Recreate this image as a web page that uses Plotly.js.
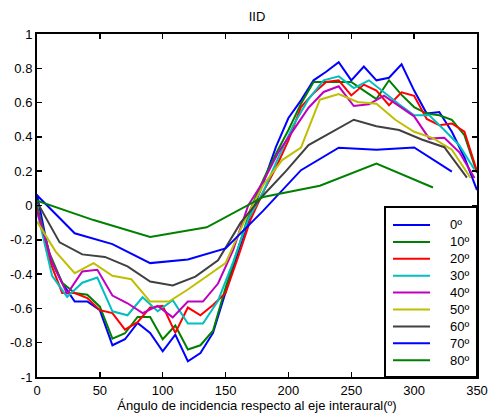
<!DOCTYPE html>
<html>
<head>
<meta charset="utf-8">
<script src="https://cdn.plot.ly/plotly-3.0.1.min.js"></script>
<style>html,body{margin:0;padding:0;background:#fff;}#chart{width:488px;height:415px;}</style>
</head>
<body>
<div id="chart"></div>
<script>
// Azimuth grids (degrees) per elevation
const az10 = [0,10,20,30,40,50,60,70,80,90,100,110,120,130,140,150,160,170,180,190,200,210,220,230,240,250,260,270,280,290,300,310,320,330,340,350];
const az12 = [0,12,24,36,48,60,72,84,96,108,120,132,144,156,168,180,192,204,216,228,240,252,264,276,288,300,312,324,336,348];
const az15 = [0,15,30,45,60,75,90,105,120,135,150,165,180,195,210,225,240,255,270,285,300,315,330,345];
const az18 = [0,18,36,54,72,90,108,126,144,162,180,198,216,234,252,270,288,306,324,342];
const az30 = [0,30,60,90,120,150,180,210,240,270,300,330];
const az45 = [0,45,90,135,180,225,270,315];

// IID values per elevation
const iid0 = [0.065,-0.30,-0.45,-0.56,-0.56,-0.61,-0.815,-0.78,-0.685,-0.743,-0.85,-0.753,-0.908,-0.86,-0.743,-0.50,-0.27,-0.05,0.13,0.34,0.51,0.613,0.73,0.78,0.836,0.73,0.81,0.73,0.745,0.823,0.67,0.536,0.545,0.43,0.28,0.09];
const iid10 = [0.0,-0.28,-0.45,-0.51,-0.52,-0.59,-0.776,-0.745,-0.65,-0.65,-0.78,-0.70,-0.84,-0.815,-0.73,-0.48,-0.25,-0.02,0.15,0.30,0.44,0.594,0.72,0.72,0.72,0.72,0.67,0.62,0.73,0.645,0.574,0.536,0.526,0.50,0.41,0.19];
const iid20 = [-0.02,-0.32,-0.51,-0.51,-0.54,-0.61,-0.627,-0.724,-0.68,-0.595,-0.585,-0.743,-0.595,-0.64,-0.58,-0.51,-0.30,-0.08,0.08,0.22,0.38,0.574,0.655,0.72,0.73,0.642,0.705,0.67,0.585,0.66,0.64,0.505,0.468,0.478,0.43,0.20];
const iid30 = [-0.03,-0.41,-0.533,-0.45,-0.42,-0.617,-0.64,-0.535,-0.617,-0.552,-0.688,-0.688,-0.555,-0.33,-0.08,0.08,0.28,0.47,0.62,0.73,0.753,0.685,0.73,0.66,0.59,0.526,0.526,0.44,0.35,0.21];
const iid40 = [-0.03,-0.33,-0.515,-0.385,-0.375,-0.525,-0.57,-0.627,-0.585,-0.652,-0.56,-0.56,-0.455,-0.26,0.0,0.14,0.31,0.44,0.57,0.662,0.695,0.58,0.59,0.64,0.58,0.52,0.39,0.395,0.31,0.16];
const iid50 = [-0.094,-0.27,-0.395,-0.336,-0.41,-0.43,-0.56,-0.56,-0.49,-0.414,-0.336,-0.09,0.12,0.265,0.337,0.617,0.65,0.604,0.594,0.5,0.43,0.393,0.325,0.16];
const iid60 = [0.02,-0.215,-0.285,-0.30,-0.355,-0.443,-0.466,-0.415,-0.32,-0.10,0.06,0.2,0.352,0.425,0.5,0.462,0.44,0.385,0.34,0.162];
const iid70 = [0.06,-0.162,-0.225,-0.336,-0.315,-0.25,-0.03,0.206,0.337,0.325,0.338,0.197];
const iid80 = [0.028,-0.085,-0.183,-0.127,0.05,0.115,0.245,0.105];

const names = ['0º','10º','20º','30º','40º','50º','60º','70º','80º'];
const xs = [az10, az10, az10, az12, az12, az15, az18, az30, az45];
const ys = [iid0, iid10, iid20, iid30, iid40, iid50, iid60, iid70, iid80];
const colors = ['#0000ff','#008000','#ff0000','#00bfbf','#bf00bf','#bfbf00','#404040','#0000ff','#008000'];

const yTickVals = [-1,-0.8,-0.6,-0.4,-0.2,0,0.2,0.4,0.6,0.8,1];
const yTickText = ['-1','-0.8','-0.6','-0.4','-0.2','0','0.2','0.4','0.6','0.8','1'];
const xTickVals = [0,50,100,150,200,250,300,350];

const FONT = 'Liberation Sans, Arial, sans-serif';

const traces = names.map((n, i) => ({
  x: xs[i], y: ys[i], name: n, type: 'scatter', mode: 'lines',
  line: {color: colors[i], width: 2}, showlegend: false
}));

// Manual legend (MATLAB-style box in lower-right corner), in paper coordinates
const W = 488, H = 415, ML = 37, MR = 11, MT = 34, MB = 38;
const PW = W - ML - MR, PH = H - MT - MB;
const px2x = p => (p - ML) / PW;
const py2y = p => (H - MB - p) / PH;
const shapes = [{
  type: 'rect', xref: 'paper', yref: 'paper', layer: 'above',
  x0: px2x(385), x1: 1, y0: 0, y1: py2y(207),
  fillcolor: '#fff', line: {color: '#000', width: 2}
}];
const annotations = [];
names.forEach((n, i) => {
  const yy = py2y(225 + i * 16.9);
  shapes.push({type: 'line', xref: 'paper', yref: 'paper', layer: 'above',
    x0: px2x(393), x1: px2x(430), y0: yy, y1: yy, line: {color: colors[i], width: 2}});
  annotations.push({xref: 'paper', yref: 'paper', x: px2x(448), y: yy, text: n, showarrow: false,
    xanchor: 'left', yanchor: 'middle', font: {family: FONT, size: 13, color: '#000'}});
});

const layout = {
  width: W, height: H,
  margin: {l: ML, r: MR, t: MT, b: MB},
  paper_bgcolor: '#fff', plot_bgcolor: '#fff',
  font: {family: FONT, size: 13, color: '#000'},
  title: {text: 'IID', x: 0.5, xref: 'paper', y: 0.96, yref: 'container', yanchor: 'middle', font: {family: FONT, size: 13, color: '#000'}},
  xaxis: {
    range: [0, 350], tickvals: xTickVals, ticks: 'inside', ticklen: 5, tickwidth: 1.5, tickcolor: '#000',
    showline: true, linewidth: 2, linecolor: '#000', mirror: 'ticks', showgrid: false, zeroline: false,
    tickfont: {family: FONT, size: 13, color: '#000'},
    title: {text: 'Ángulo de incidencia respecto al eje interaural(º)', standoff: 2, font: {family: FONT, size: 13, color: '#000'}}
  },
  yaxis: {
    range: [-1, 1], tickvals: yTickVals, ticktext: yTickText, ticks: 'inside', ticklen: 5, tickwidth: 1.5, tickcolor: '#000',
    showline: true, linewidth: 2, linecolor: '#000', mirror: 'ticks', showgrid: false, zeroline: false,
    tickfont: {family: FONT, size: 13, color: '#000'}
  },
  showlegend: false,
  shapes: shapes,
  annotations: annotations
};

Plotly.newPlot('chart', traces, layout, {displayModeBar: false, staticPlot: true});
</script>
</body>
</html>
